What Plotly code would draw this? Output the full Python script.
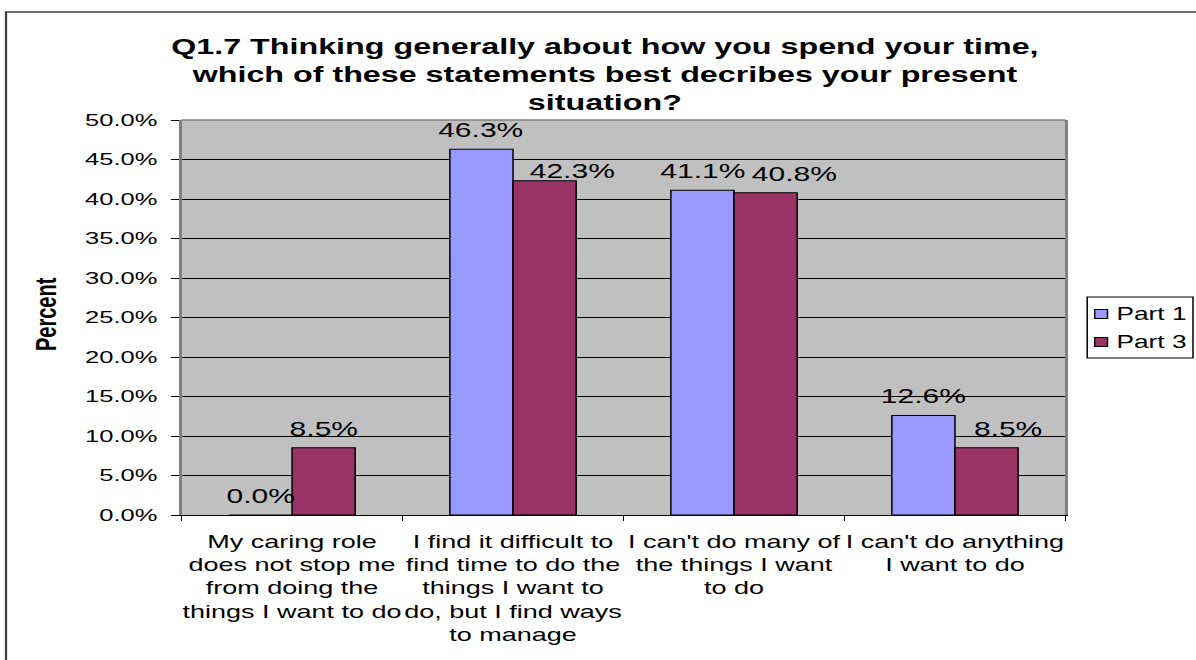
import plotly.graph_objects as go

# Survey answers (categories) and the share of respondents for each part
categories = [
    "My caring role<br>does not stop me<br>from doing the<br>things I want to do",
    "I find it difficult to<br>find time to do the<br>things I want to<br>do, but I find ways<br>to manage",
    "I can't do many of<br>the things I want<br>to do",
    "I can't do anything<br>I want to do",
]
part1 = [0.0, 0.463, 0.411, 0.126]
part3 = [0.085, 0.423, 0.408, 0.085]
series_names = ["Part 1", "Part 3"]
series_colors = ["#9999FF", "#993366"]
y_ticks = [i * 0.05 for i in range(11)]

title_text = ("Q1.7 Thinking generally about how you spend your time,<br>"
              "which of these statements best decribes your present<br>"
              "situation?")

FONT = "Arial, 'Liberation Sans', sans-serif"
W, H = 797, 660           # drawing size before the horizontal stretch
STRETCH = 1196 / W        # the page shows the chart stretched to full width
L, R, T, B = 121, 87, 120, 145
PW = W - L - R
PH = H - T - B

BARGAP = 1.5 / 3.5
bar_w = PW / len(categories) * (1 - BARGAP) / 2

# nudges (screen px) for the Part 3 value labels that would collide
p3_label_dx = [0, 19, 19, 15]
p3_label_dy = [0, -9, 0, 0]


def px_x(px):
    return (px - L) / PW


def px_y(py):
    return (H - B - py) / PH


fig = go.Figure()
for name, vals, col in zip(series_names, (part1, part3), series_colors):
    fig.add_trace(go.Bar(x=categories, y=vals, name=name, showlegend=False,
                         marker=dict(color=col, line=dict(color="#000000", width=1))))

# value labels above each bar
annotations = []
for i, (cat, v) in enumerate(zip(categories, part1)):
    annotations.append(dict(
        x=cat, y=v, xref="x", yref="y", text=f"{v:.1%}", showarrow=False,
        xshift=-bar_w / 2, yshift=6, yanchor="bottom", xanchor="center",
        font=dict(family=FONT, size=20, color="#000000")))
for i, (cat, v) in enumerate(zip(categories, part3)):
    annotations.append(dict(
        x=cat, y=v, xref="x", yref="y", text=f"{v:.1%}", showarrow=False,
        xshift=bar_w / 2 + p3_label_dx[i], yshift=6 + p3_label_dy[i],
        yanchor="bottom", xanchor="center",
        font=dict(family=FONT, size=20, color="#000000")))

annotations.append(dict(
    x=px_x(403), y=px_y(117), xref="paper", yref="paper", text=title_text,
    showarrow=False, xanchor="center", yanchor="bottom",
    font=dict(family=FONT, size=21.5, color="#000000", weight="bold")))

annotations.append(dict(
    x=px_x(30), y=px_y(314), xref="paper", yref="paper", text="Percent",
    showarrow=False, textangle=-90, xanchor="center", yanchor="middle",
    font=dict(family=FONT, size=20, color="#000000", weight="bold")))

shapes = [
    # outer chart frame (runs off the right and bottom of the page)
    dict(type="rect", xref="paper", yref="paper",
         x0=px_x(4), x1=px_x(820), y0=px_y(690), y1=px_y(12),
         line=dict(color="#404040", width=1.5), layer="below"),
    # plot area top edge
    dict(type="line", xref="paper", yref="paper", x0=0, x1=1, y0=1, y1=1,
         line=dict(color="#808080", width=1.5), layer="above"),
]

# legend box with a swatch and name per series
LEG_X0, LEG_X1, LEG_Y0, LEG_Y1 = 724.5, 795, 297, 358
shapes.append(dict(type="rect", xref="paper", yref="paper",
                   x0=px_x(LEG_X0), x1=px_x(LEG_X1), y0=px_y(LEG_Y1), y1=px_y(LEG_Y0),
                   fillcolor="#FFFFFF", line=dict(color="#000000", width=1)))
for k, (name, col) in enumerate(zip(series_names, series_colors)):
    yc = 314 + 28 * k
    shapes.append(dict(type="rect", xref="paper", yref="paper",
                       x0=px_x(729.5), x1=px_x(738), y0=px_y(yc + 4.5), y1=px_y(yc - 4.5),
                       fillcolor=col, line=dict(color="#000000", width=1)))
    annotations.append(dict(
        x=px_x(742), y=px_y(yc), xref="paper", yref="paper", text=name,
        showarrow=False, xanchor="left", yanchor="middle",
        font=dict(family=FONT, size=17.5, color="#000000")))

fig.update_layout(
    width=W, height=H,
    margin=dict(l=L, r=R, t=T, b=B, autoexpand=False),
    paper_bgcolor="#FFFFFF", plot_bgcolor="#C0C0C0",
    barmode="group", bargap=BARGAP, bargroupgap=0,
    font=dict(family=FONT, color="#000000"),
    showlegend=False,
    annotations=annotations,
    shapes=shapes,
)

fig.update_xaxes(
    type="category", tickson="boundaries", ticks="outside", ticklen=5,
    tickcolor="#000000", showline=True, linecolor="#000000", linewidth=1,
    showgrid=False, tickangle=0, automargin=False,
    tickfont=dict(family=FONT, size=18, color="#000000"),
    ticklabelstandoff=10,
)
fig.update_yaxes(
    range=[0, 0.5], tickvals=y_ticks, tickformat=".1%", ticks="outside",
    ticklen=5, tickcolor="#000000", showline=True, linecolor="#808080",
    linewidth=1.5, mirror=True, showgrid=True, gridcolor="#000000",
    gridwidth=1, zeroline=False, automargin=False,
    tickfont=dict(family=FONT, size=17, color="#000000"),
    ticklabelstandoff=6,
)

post = (
    "document.body.style.margin='0';"
    "var d=document.getElementById('{plot_id}');"
    "d.style.transformOrigin='0 0';"
    f"d.style.transform='scaleX({STRETCH:.5f})';"
)
fig.write_html("out.html", post_script=post)
